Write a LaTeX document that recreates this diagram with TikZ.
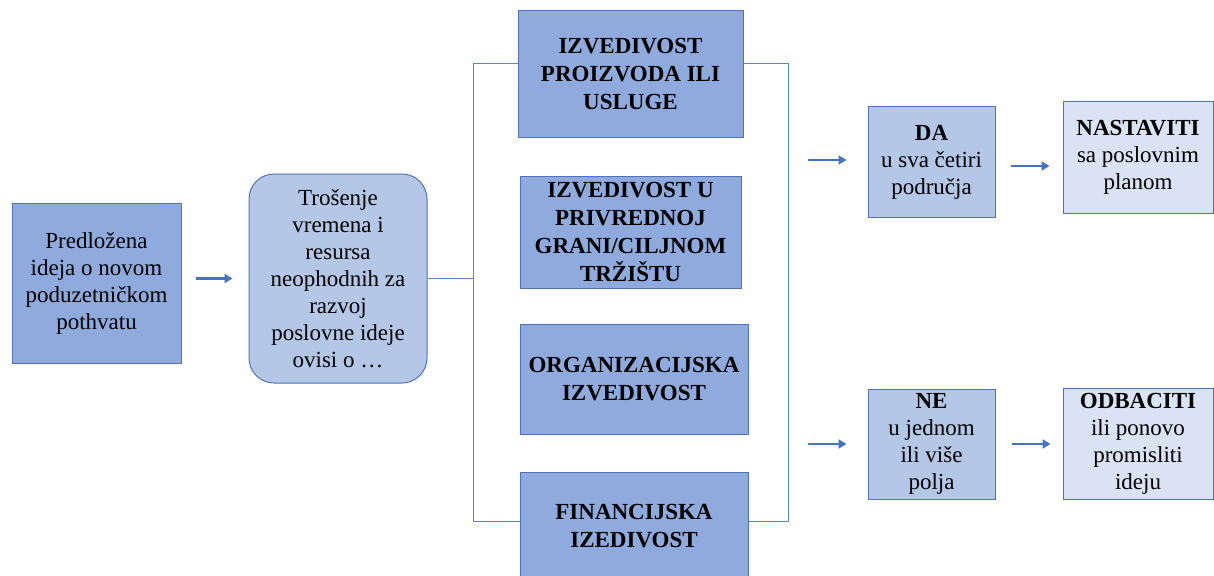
\documentclass[tikz,border=0pt]{standalone}
\usepackage{fontspec}
\setmainfont{Liberation Serif}
\usetikzlibrary{arrows.meta,calc}
\definecolor{midfill}{HTML}{8FAADC}
\definecolor{lightfill}{HTML}{B4C7E7}
\definecolor{palefill}{HTML}{DAE3F3}
\definecolor{edge}{HTML}{4F72B8}
\definecolor{linec}{HTML}{4472C4}
\definecolor{connc}{HTML}{5A82CC}
\tikzset{
  box/.style={draw=edge, line width=1pt, inner sep=0pt, align=center,
    font=\fontsize{23}{27}\selectfont, text=black},
  midbox/.style={box, fill=midfill},
  lightbox/.style={box, fill=lightfill},
  palebox/.style={box, fill=palefill},
  boldbox/.style={midbox, font=\fontsize{23}{28}\selectfont\bfseries},
  conn/.style={draw=connc, line width=1pt},
  arr/.style={draw=linec, line width=2.6pt, -{Triangle[length=8pt,width=9pt]}}
}
\begin{document}
\begin{tikzpicture}[x=1pt,y=-1pt]
\useasboundingbox (0,0) rectangle (1214,575);
\clip (0,0) rectangle (1214,575);

\node[midbox, minimum width=169pt, minimum height=160pt] (a) at (96.5,283)
  {Predložena\\ideja o novom\\poduzetničkom\\pothvatu};
\node[lightbox, rounded corners=25pt, minimum width=178pt, minimum height=209pt] (b) at (338,278.5)
  {Trošenje\\vremena i\\resursa\\neophodnih za\\razvoj\\poslovne ideje\\ovisi o …};

\node[boldbox, minimum width=225pt, minimum height=126pt] (m1) at (630.5,74)
  {IZVEDIVOST\\PROIZVODA ILI\\USLUGE};
\node[boldbox, minimum width=221pt, minimum height=112pt] (m2) at (630.5,232)
  {IZVEDIVOST U\\PRIVREDNOJ\\GRANI/CILJNOM\\TRŽIŠTU};
\node[boldbox, minimum width=228pt, minimum height=110pt] (m3) at (634,379)
  {ORGANIZACIJSKA\\IZVEDIVOST};
\node[boldbox, minimum width=228pt, minimum height=108pt] (m4) at (634,526)
  {FINANCIJSKA\\IZEDIVOST};

\node[lightbox, minimum width=127pt, minimum height=110pt] (da) at (931.5,162)
  {\textbf{DA}\\u sva četiri\\područja};
\node[palebox, minimum width=150pt, minimum height=111pt] (nas) at (1138,157.5)
  {\textbf{NASTAVITI}\\sa poslovnim\\planom};
\node[lightbox, minimum width=127pt, minimum height=110pt] (ne) at (931.5,444)
  {\textbf{NE}\\u jednom\\ili više\\polja};
\node[palebox, minimum width=150pt, minimum height=111pt] (odb) at (1138,443.5)
  {\textbf{ODBACITI}\\ili ponovo\\promisliti\\ideju};

\coordinate (busL) at (473,0);
\coordinate (busR) at (788,0);
\coordinate (s1) at (808,160);
\coordinate (s2) at (808,444);

% connectors
\draw[arr, shorten <=14pt, shorten >=16pt] (a.east |- b.west) -- (b.west);
\draw[conn] (b.east) -- (b.east -| busL);
\draw[conn] ([yshift=10pt]m1.west) -- ([yshift=10pt]m1.west -| busL)
  -- ([yshift=5pt]m4.west -| busL) -- ([yshift=5pt]m4.west);
\draw[conn] ([yshift=10pt]m1.east) -- ([yshift=10pt]m1.east -| busR)
  -- ([yshift=5pt]m4.east -| busR) -- ([yshift=5pt]m4.east);

\draw[arr, shorten >=21pt] (s1) -- (s1 -| da.west);
\draw[arr, shorten >=21pt] (s2) -- (s2 -| ne.west);
\draw[arr, shorten <=15pt, shorten >=13pt] ([yshift=-4pt]da.east) -- ([yshift=-4pt]da.east -| nas.west);
\draw[arr, shorten <=16pt, shorten >=12pt] (ne.east) -- (ne.east -| odb.west);
\end{tikzpicture}
\end{document}
